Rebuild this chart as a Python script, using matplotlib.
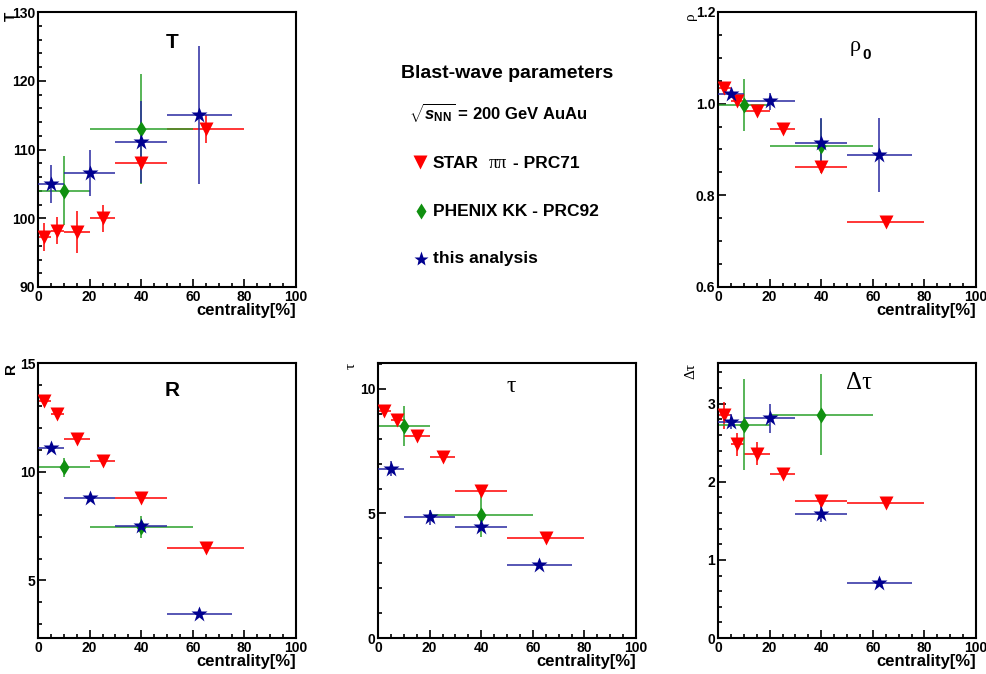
import numpy as np
import matplotlib
matplotlib.use("Agg")
import matplotlib.pyplot as plt
from matplotlib.ticker import MultipleLocator, FormatStrFormatter

plt.rcParams['font.family'] = ['Liberation Sans', 'DejaVu Sans']
plt.rcParams['mathtext.fontset'] = 'custom'
plt.rcParams['mathtext.rm'] = 'Liberation Sans:bold'
plt.rcParams['mathtext.it'] = 'Liberation Sans:italic:bold'
plt.rcParams['mathtext.bf'] = 'Liberation Sans:bold'

# centrality bins
star_x = [2.5, 7.5, 15, 25, 40, 65]
star_xerr = [2.5, 2.5, 5, 5, 10, 15]
phenix_x = [10, 40]
phenix_xerr = [10, 20]
this_x = [5, 20, 40, 62.5]
this_xerr = [5, 10, 10, 12.5]

# T
star_T = [97.3, 98.2, 98.0, 100.0, 108.0, 113.0]
star_T_err = [2, 2, 3, 2, 0.5, 2]
phenix_T = [104, 113]
phenix_T_err = [5, 8]
this_T = [105, 106.6, 111.1, 115]
this_T_err = [2.8, 3.4, 6, 10]

# rho_0
star_rho = [1.035, 1.005, 0.985, 0.944, 0.862, 0.741]
star_rho_err = [0.0, 0.005, 0.005, 0.004, 0.004, 0.004]
phenix_rho = [0.997, 0.908]
phenix_rho_err = [0.056, 0.059]
this_rho = [1.02, 1.005, 0.915, 0.888]
this_rho_err = [0.008, 0.018, 0.053, 0.08]

# R
star_R = [13.25, 12.65, 11.5, 10.5, 8.8, 6.5]
star_R_err = [0.1, 0.1, 0.1, 0.1, 0.1, 0.1]
phenix_R = [10.2, 7.45]
phenix_R_err = [0.45, 0.5]
this_R = [11.1, 8.8, 7.5, 3.45]
this_R_err = [0.15, 0.1, 0.1, 0.1]

# tau
star_tau = [9.1, 8.75, 8.1, 7.25, 5.9, 4.0]
star_tau_err = [0.15, 0.1, 0.1, 0.1, 0.1, 0.1]
phenix_tau = [8.5, 4.95]
phenix_tau_err = [0.8, 0.9]
this_tau = [6.8, 4.85, 4.45, 2.95]
this_tau_err = [0.3, 0.3, 0.1, 0.05]

# delta tau
star_dtau = [2.85, 2.48, 2.36, 2.1, 1.75, 1.73]
star_dtau_err = [0.17, 0.15, 0.15, 0.05, 0.08, 0.05]
phenix_dtau = [2.73, 2.86]
phenix_dtau_err = [0.58, 0.52]
this_dtau = [2.77, 2.81, 1.59, 0.7]
this_dtau_err = [0.1, 0.18, 0.1, 0.03]

RED = '#ff0000'
GREEN_M = '#109010'
GREEN_E = '#2aa02a'
BLUE_M = '#000090'
BLUE_E = '#2828a0'

W, H = 986, 674
fig = plt.figure(figsize=(W / 100, H / 100), dpi=100)

cols = [38, 378, 718]
rows = [12, 363]
aw, ah = 258, 275


def make_ax(col, row):
    return fig.add_axes([cols[col] / W, 1 - (rows[row] + ah) / H, aw / W, ah / H])


def draw(ax, star, star_err, phenix, phenix_err, this, this_err):
    ax.errorbar(star_x, star, xerr=star_xerr, yerr=star_err, fmt='none',
                ecolor=RED, elinewidth=1.1, capsize=0, zorder=2)
    ax.errorbar(phenix_x, phenix, xerr=phenix_xerr, yerr=phenix_err, fmt='none',
                ecolor=GREEN_E, elinewidth=1.1, capsize=0, zorder=2)
    ax.errorbar(this_x, this, xerr=this_xerr, yerr=this_err, fmt='none',
                ecolor=BLUE_E, elinewidth=1.1, capsize=0, zorder=3)
    ax.plot(star_x, star, 'v', color=RED, ms=10, mec='none', zorder=4)
    ax.plot(phenix_x, phenix, 'd', color=GREEN_M, ms=8, mec='none', zorder=5)
    ax.plot(this_x, this, '*', color=BLUE_M, ms=12, mec='none', zorder=6)


def style(ax, ylim, major, minor, fmt, ylabel, yfont=None):
    ax.set_xlim(0, 100)
    ax.set_ylim(*ylim)
    ax.xaxis.set_major_locator(MultipleLocator(20))
    ax.xaxis.set_minor_locator(MultipleLocator(5))
    ax.yaxis.set_major_locator(MultipleLocator(major))
    ax.yaxis.set_minor_locator(MultipleLocator(minor))
    ax.yaxis.set_major_formatter(FormatStrFormatter(fmt))
    ax.tick_params(which='both', direction='in', top=False, right=False,
                   width=1.2, labelsize=10, pad=2)
    ax.tick_params(which='major', length=6)
    ax.tick_params(which='minor', length=3)
    for lab in ax.get_xticklabels() + ax.get_yticklabels():
        lab.set_fontweight('bold')
    for sp in ax.spines.values():
        sp.set_linewidth(1.5)
    ax.text(1.0, -0.085, 'centrality[%]', transform=ax.transAxes, ha='right',
            va='center', fontsize=12, fontweight='bold')
    if yfont:
        ax.text(-0.105, 1.0, ylabel, transform=ax.transAxes, rotation=90,
                ha='center', va='top', fontsize=11, family=yfont)
    else:
        ax.text(-0.105, 1.0, ylabel, transform=ax.transAxes, rotation=90,
                ha='center', va='top', fontsize=11, fontweight='bold')


serif = ['Liberation Serif', 'DejaVu Serif']

# T
ax = make_ax(0, 0)
draw(ax, star_T, star_T_err, phenix_T, phenix_T_err, this_T, this_T_err)
style(ax, (90, 130), 10, 2, '%d', 'T')
ax.text(0.52, 0.89, 'T', transform=ax.transAxes, ha='center', va='center',
        fontsize=15, fontweight='bold')

# rho_0
ax = make_ax(2, 0)
draw(ax, star_rho, star_rho_err, phenix_rho, phenix_rho_err, this_rho, this_rho_err)
style(ax, (0.6, 1.2), 0.2, 0.05, '%.1f', 'ρ', yfont=serif)
ax.text(0.53, 0.875, 'ρ', transform=ax.transAxes, ha='center', va='center',
        fontsize=16, family=serif)
ax.text(0.575, 0.845, '0', transform=ax.transAxes, ha='center', va='center',
        fontsize=11, fontweight='bold')

# R
ax = make_ax(0, 1)
draw(ax, star_R, star_R_err, phenix_R, phenix_R_err, this_R, this_R_err)
style(ax, (2.35, 15), 5, 1, '%d', 'R')
ax.text(0.52, 0.90, 'R', transform=ax.transAxes, ha='center', va='center',
        fontsize=15, fontweight='bold')

# tau
ax = make_ax(1, 1)
draw(ax, star_tau, star_tau_err, phenix_tau, phenix_tau_err, this_tau, this_tau_err)
style(ax, (0, 11.04), 5, 1, '%d', 'τ', yfont=serif)
ax.text(0.515, 0.913, 'τ', transform=ax.transAxes, ha='center', va='center',
        fontsize=17, family=serif)

# delta tau
ax = make_ax(2, 1)
draw(ax, star_dtau, star_dtau_err, phenix_dtau, phenix_dtau_err, this_dtau, this_dtau_err)
style(ax, (0, 3.52), 1, 0.2, '%d', 'Δτ', yfont=serif)
ax.text(0.547, 0.927, 'Δτ', transform=ax.transAxes, ha='center', va='center',
        fontsize=18, family=serif)

# legend block
fig.text(507 / W, 1 - 73 / H, 'Blast-wave parameters', ha='center', va='center',
         fontsize=14, fontweight='bold')
fig.text(409 / W, 1 - 113 / H, r'$\sqrt{s_{\rm NN}}$ = 200 GeV AuAu', ha='left',
         va='center', fontsize=12, fontweight='bold')

fig.lines.append(plt.Line2D([420 / W], [1 - 162 / H], marker='v', color=RED,
                            ms=10, mec='none', transform=fig.transFigure))
fig.lines.append(plt.Line2D([421 / W], [1 - 211 / H], marker='d', color=GREEN_M,
                            ms=8, mec='none', transform=fig.transFigure))
fig.lines.append(plt.Line2D([421 / W], [1 - 259 / H], marker='*', color=BLUE_M,
                            ms=11, mec='none', transform=fig.transFigure))

fig.text(433 / W, 1 - 163 / H, 'STAR', ha='left', va='center', fontsize=12.5,
         fontweight='bold')
fig.text(489 / W, 1 - 163 / H, 'ππ', ha='left', va='center', fontsize=13,
         family=serif)
fig.text(513 / W, 1 - 163 / H, '- PRC71', ha='left', va='center', fontsize=12.5,
         fontweight='bold')
fig.text(433 / W, 1 - 211 / H, 'PHENIX KK - PRC92', ha='left', va='center',
         fontsize=12.5, fontweight='bold')
fig.text(433 / W, 1 - 259 / H, 'this analysis', ha='left', va='center',
         fontsize=12.5, fontweight='bold')

fig.savefig('out.png', dpi=100)
